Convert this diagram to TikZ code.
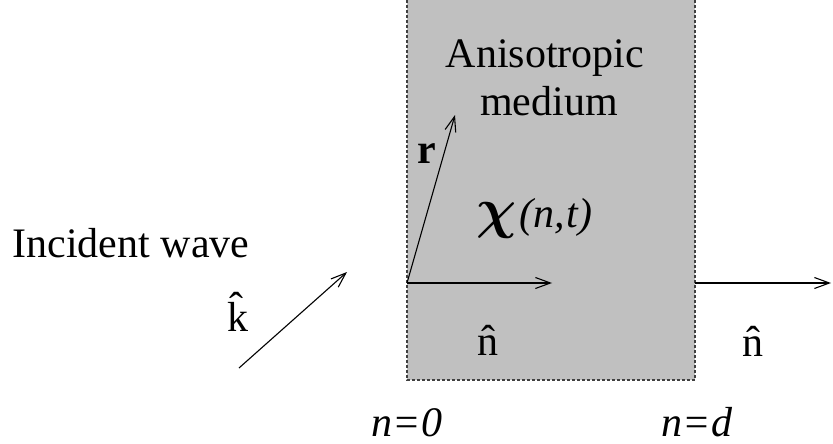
\documentclass[tikz,border=0pt]{standalone}
\usepackage{amsmath}
\usepackage{graphicx}
\usepackage{fontspec}
\setmainfont{Liberation Serif}
\usetikzlibrary{arrows.meta}
\definecolor{mediumgray}{RGB}{192,192,192}

\begin{document}
\begin{tikzpicture}[
    x=1pt, y=-1pt,
    lbl/.style={font=\fontsize{42}{47}\selectfont, inner sep=0pt, anchor=base},
    arrow/.style={-{Straight Barb[length=15pt, width=11pt]}, line width=1.1pt},
    slabedge/.style={dash pattern=on 3pt off 2pt, line width=1.1pt, draw=black!75}
  ]
    \useasboundingbox (0,0) rectangle (833,444);

    % Anisotropic slab
    \fill[mediumgray] (407,0) rectangle (695,380);
    \coordinate (topleft) at (407,0);
    \coordinate (botleft) at (407,380);
    \coordinate (botright) at (695,380);
    \coordinate (topright) at (695,0);
    \draw[slabedge] (topleft) -- (botleft) -- (botright) -- (topright);

    % Vector end points
    \coordinate (origin) at (407,283);
    \coordinate (rtip) at (455,115);
    \coordinate (ntip) at (552,283);
    \coordinate (outstart) at (695,283);
    \coordinate (outtip) at (831,283);
    \coordinate (kstart) at (239,368);
    \coordinate (ktip) at (347,272);

    % Labels
    \node[lbl] (aniso) at (545,68) {Anisotropic};
    \node[lbl] (medium) at (549,115) {medium};
    \node[lbl] (rlabel) at (427,163) {\textbf{r}};
    \node[lbl, anchor=base west] (chi) at (476,227) {{\fontsize{10}{12}\selectfont\scalebox{5.6}{$\boldsymbol{\chi}$}}\kern3pt\textit{(n,\kern2pt t)}};
    \node[lbl] (incident) at (131,257) {Incident wave};
    \node[lbl] (khat) at (238,331) {\^{k}};
    \node[lbl] (ninside) at (488,355) {\^{n}};
    \node[lbl] (noutside) at (753,356) {\^{n}};
    \node[lbl] (nzero) at (407,436) {\textit{n=0}};
    \node[lbl] (nd) at (697,436) {\textit{n=d}};

    % Arrows
    \draw[arrow] (origin) -- (rtip);
    \draw[arrow] (origin) -- (ntip);
    \draw[arrow] (outstart) -- (outtip);
    \draw[arrow] (kstart) -- (ktip);

  \end{tikzpicture}
\end{document}
